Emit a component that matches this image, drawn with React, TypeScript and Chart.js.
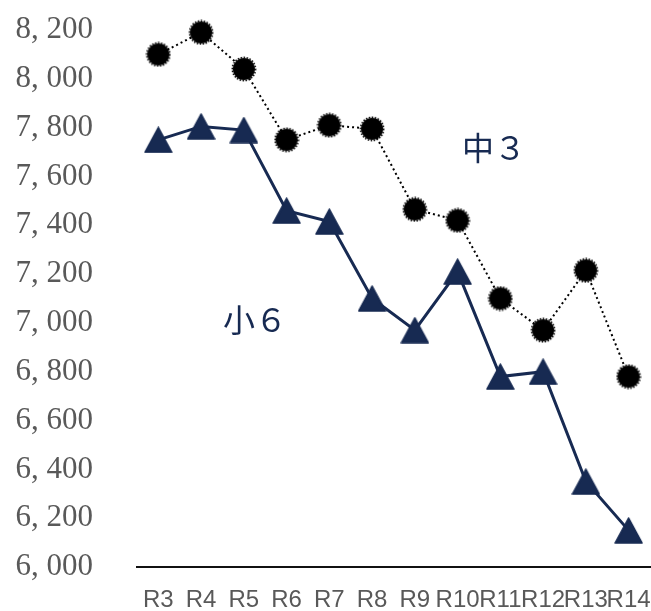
import React, { useEffect, useRef } from "react";
import { Chart, registerables } from "chart.js";

Chart.register(...registerables);

// Fiscal years along the horizontal axis
const years = ["R3", "R4", "R5", "R6", "R7", "R8", "R9", "R10", "R11", "R12", "R13", "R14"];

// Average scores per year
const chu3 = [8100, 8190, 8040, 7750, 7810, 7795, 7465, 7420, 7100, 6970, 7215, 6780];
const sho6 = [7750, 7805, 7790, 7460, 7415, 7100, 6970, 7210, 6780, 6800, 6350, 6150];

// Series names and where their in-plot labels sit: [category index, value]
const seriesNames = ["中３", "小６"];
const labelAnchors: [number, number][] = [
  [7.85, 7716],
  [2.26, 7012],
];

const Y_MIN = 6000;
const Y_MAX = 8200;
const Y_STEP = 200;

const W = 651;
const H = 611;

const NAVY = "#172a52";
const GREY = "#595959";

function makeTriangle(): HTMLCanvasElement {
  const c = document.createElement("canvas");
  c.width = 29;
  c.height = 27;
  const g = c.getContext("2d")!;
  g.fillStyle = NAVY;
  g.strokeStyle = NAVY;
  g.lineWidth = 1.5;
  g.lineJoin = "round";
  g.beginPath();
  g.moveTo(14.5, 1);
  g.lineTo(28, 26);
  g.lineTo(1, 26);
  g.closePath();
  g.fill();
  g.stroke();
  return c;
}

function makeDot(): HTMLCanvasElement {
  const c = document.createElement("canvas");
  c.width = 26;
  c.height = 26;
  const g = c.getContext("2d")!;
  g.fillStyle = "#000";
  g.beginPath();
  g.arc(13, 13, 11, 0, Math.PI * 2);
  g.fill();
  g.strokeStyle = "#000";
  g.lineWidth = 1.6;
  g.setLineDash([1.5, 1.5]);
  g.beginPath();
  g.arc(13, 13, 11.6, 0, Math.PI * 2);
  g.stroke();
  return c;
}

const seriesLabels = {
  id: "seriesLabels",
  afterDatasetsDraw(chart: any) {
    const { ctx, scales } = chart;
    ctx.save();
    ctx.fillStyle = NAVY;
    ctx.font = '32px "Noto Sans CJK JP", sans-serif';
    ctx.textAlign = "center";
    ctx.textBaseline = "middle";
    seriesNames.forEach((name, i) => {
      const [xi, yv] = labelAnchors[i];
      ctx.fillText(name, scales.x.getPixelForValue(xi), scales.y.getPixelForValue(yv));
    });
    ctx.restore();
  },
};

export default function App() {
  const ref = useRef<HTMLCanvasElement>(null);

  useEffect(() => {
    if (!ref.current) return;
    const chart = new Chart(ref.current, {
      type: "line",
      data: {
        labels: years,
        datasets: [
          {
            label: seriesNames[0],
            data: chu3,
            borderColor: "#000",
            borderWidth: 2,
            borderDash: [2, 3],
            pointStyle: makeDot() as any,
            pointRadius: 12,
            tension: 0,
            clip: false,
          },
          {
            label: seriesNames[1],
            data: sho6,
            borderColor: NAVY,
            borderWidth: 3,
            pointStyle: makeTriangle() as any,
            pointRadius: 14,
            tension: 0,
            clip: false,
          },
        ],
      },
      options: {
        animation: false,
        responsive: false,
        devicePixelRatio: 1,
        layout: { autoPadding: false, padding: { top: 30, right: 1, left: 0, bottom: 0 } },
        plugins: {
          legend: { display: false },
          tooltip: { enabled: false },
        },
        scales: {
          x: {
            offset: true,
            grid: { display: false, drawTicks: true, tickLength: 19 },
            border: { display: true, color: "#111", width: 2 },
            ticks: {
              autoSkip: false,
              minRotation: 0,
              maxRotation: 0,
              padding: 0,
              color: GREY,
              font: { family: '"Liberation Sans Narrow", "Liberation Sans", sans-serif', size: 24 },
            },
            afterFit(scale: any) {
              scale.height = 44;
              scale.paddingLeft = 0;
              scale.paddingRight = 0;
            },
          },
          y: {
            min: Y_MIN,
            max: Y_MAX,
            grid: { display: false, drawTicks: true, tickLength: 44 },
            border: { display: false },
            ticks: {
              stepSize: Y_STEP,
              padding: 0,
              color: GREY,
              font: { family: '"Liberation Serif", serif', size: 31 },
              callback: (v: any) => Number(v).toLocaleString("en-US").replace(",", ", "),
            },
            afterFit(scale: any) {
              scale.width = 137;
            },
          },
        },
      },
      plugins: [seriesLabels],
    });
    return () => chart.destroy();
  }, []);

  return (
    <div style={{ position: "fixed", left: 0, top: 0, width: W, height: H, background: "#fff" }}>
      <canvas ref={ref} width={W} height={H} style={{ display: "block", width: W, height: H }} />
    </div>
  );
}
